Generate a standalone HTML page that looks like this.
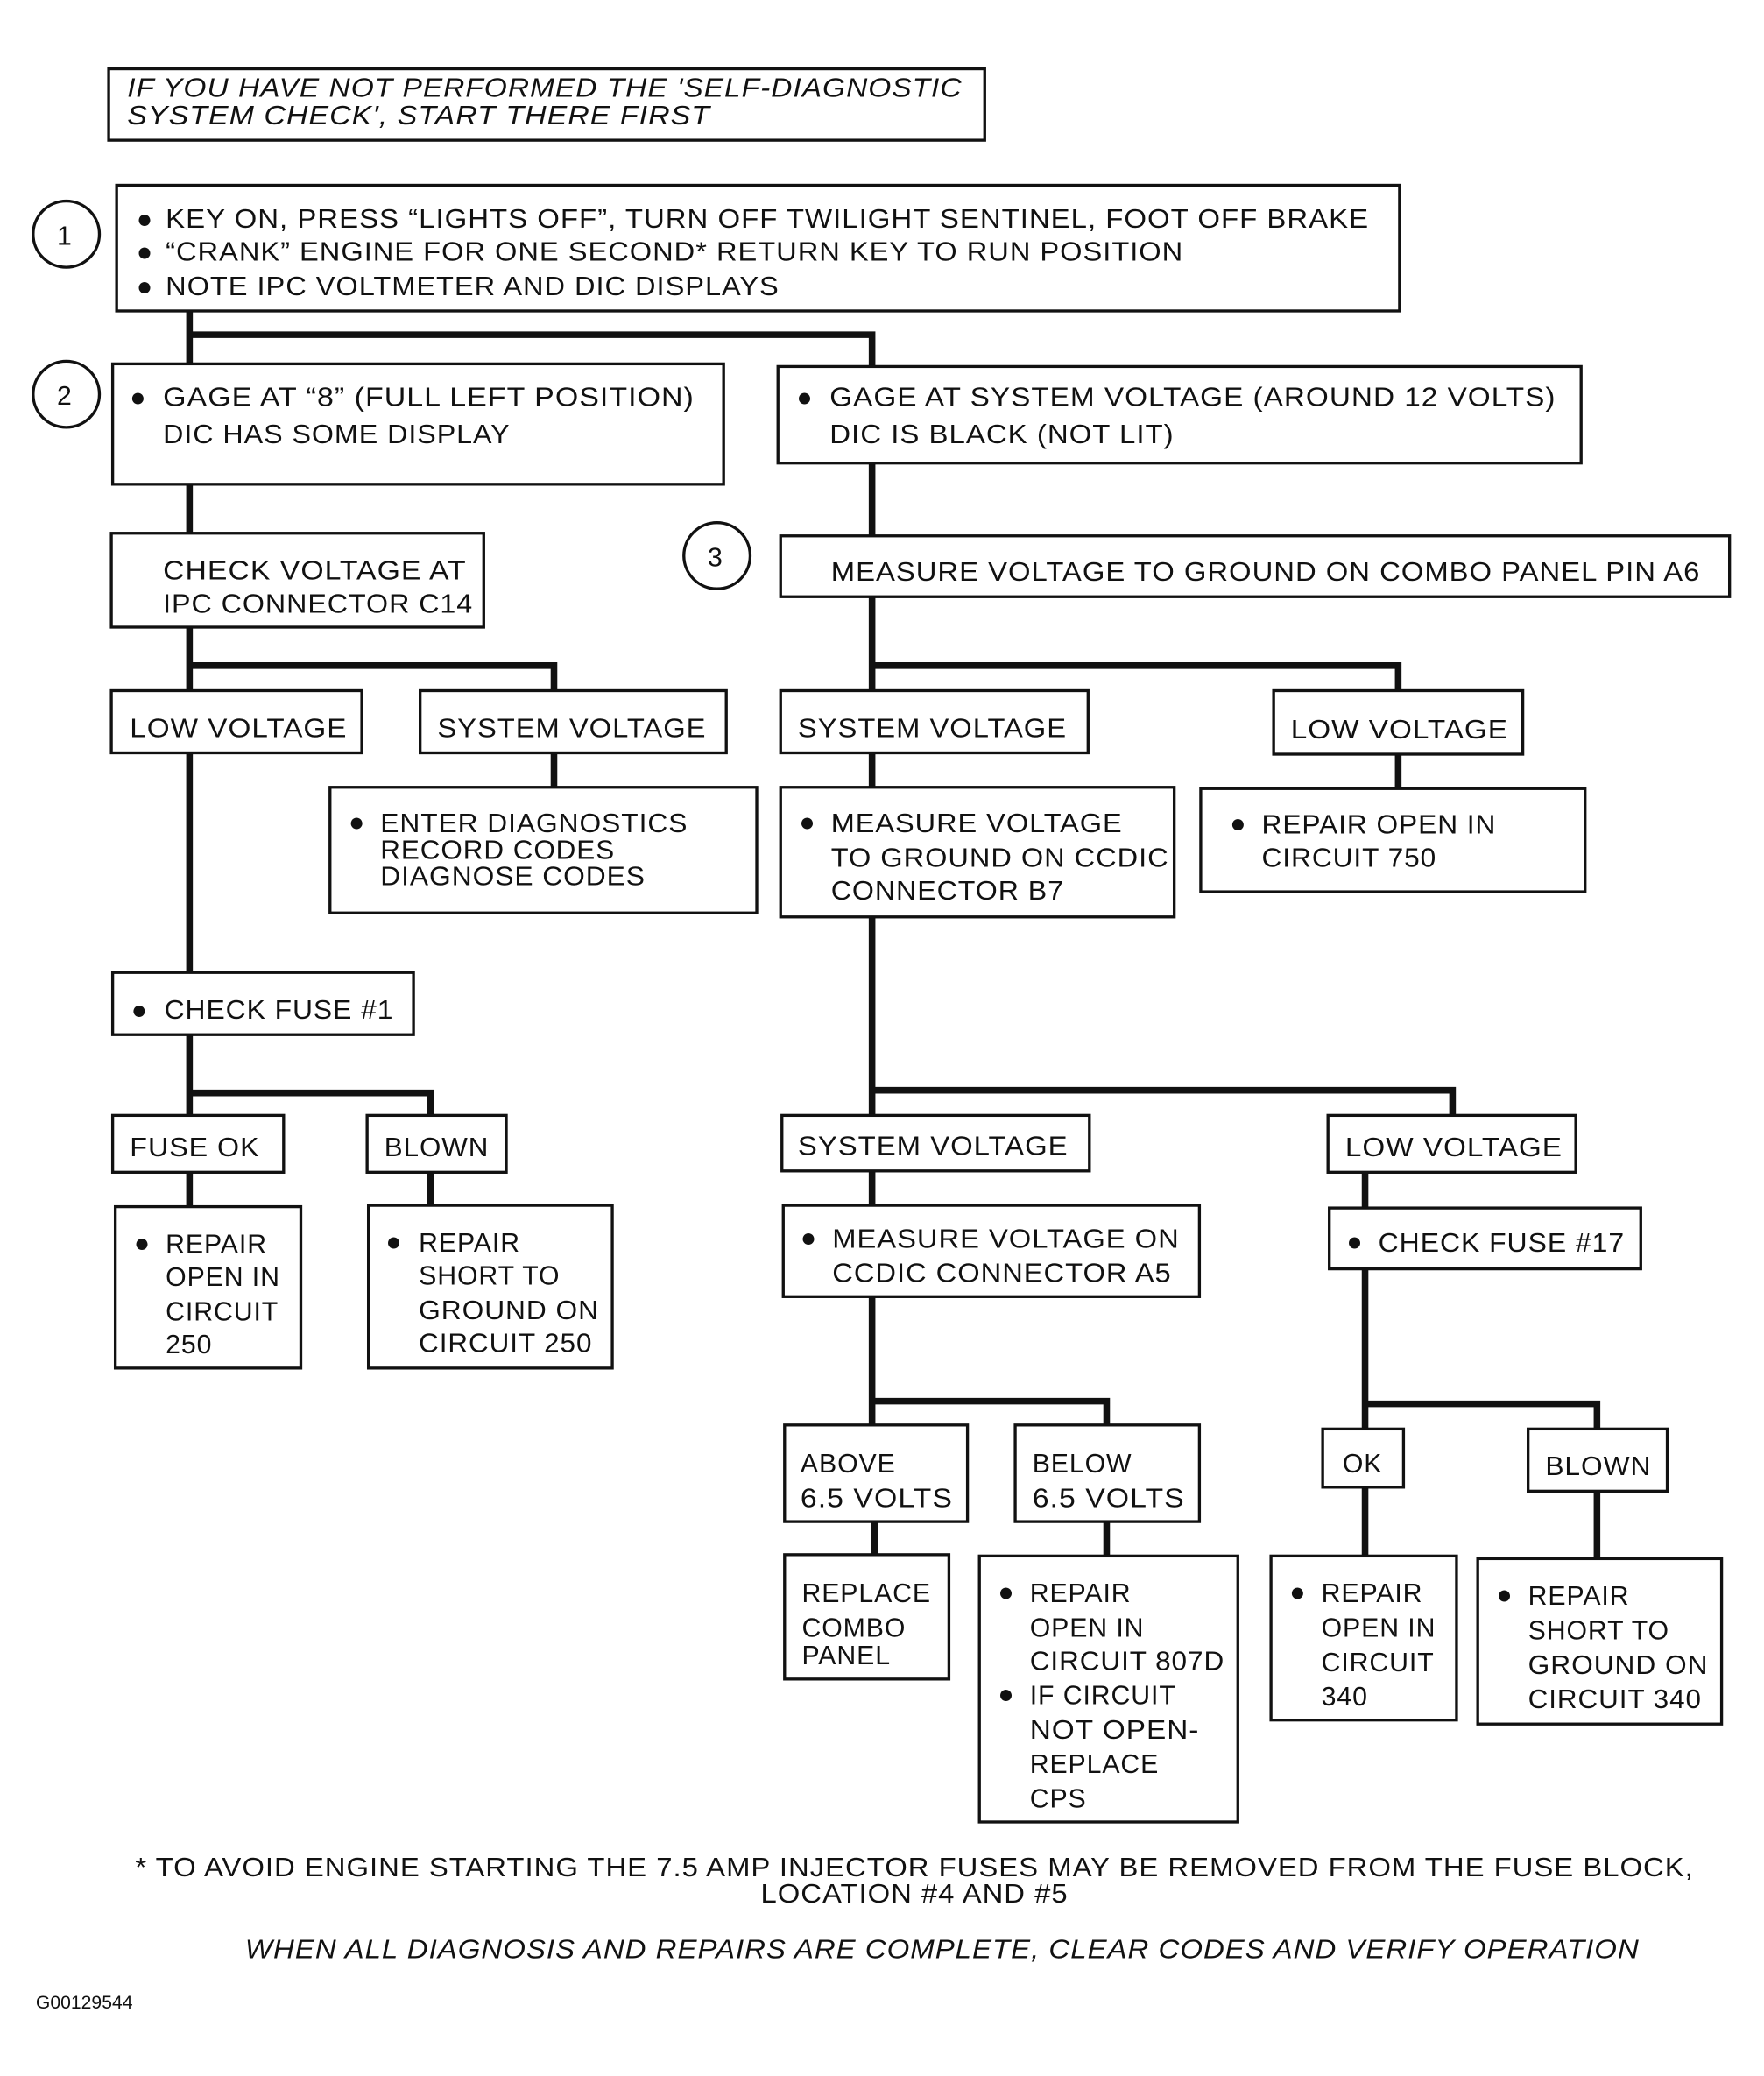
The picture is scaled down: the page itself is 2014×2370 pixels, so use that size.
<!DOCTYPE html>
<html><head><meta charset="utf-8"><style>
html,body{margin:0;padding:0;background:#fff}
svg{display:block}
text{font-family:"Liberation Sans",Arial,sans-serif;font-size:20px;fill:#111;letter-spacing:0.6px}
.b{fill:none;stroke:#111;stroke-width:2.2}
.l{fill:none;stroke:#111;stroke-width:5}
.i{font-style:italic}
</style></head><body>
<svg width="2014" height="2370" viewBox="0 0 1331 1569" preserveAspectRatio="none" xmlns="http://www.w3.org/2000/svg">
<g class="l">
<path d="M143 235V275M143 253H658V277"/>
<path d="M143 366V403"/>
<path d="M658 350V405"/>
<path d="M143 474V522M143 503H418V522"/>
<path d="M418 569V595"/>
<path d="M143 569V735"/>
<path d="M143 782V843M143 826H325V843"/>
<path d="M143 886V912M325 886V911"/>
<path d="M658 451V522M658 503H1055V522"/>
<path d="M658 569V595M1055 570V596"/>
<path d="M658 693V843M658 824H1096V843"/>
<path d="M658 885V911M1030 886V913"/>
<path d="M658 980V1077M658 1059H835V1077"/>
<path d="M1030 959V1080M1030 1061H1205V1080"/>
<path d="M660 1150V1175M835 1150V1176M1030 1124V1176M1205 1127V1178"/>
</g>
<g class="b">
<rect x="82" y="52" width="661" height="54"/>
<circle cx="50" cy="177" r="25"/>
<rect x="88" y="140" width="968" height="95"/>
<circle cx="50" cy="298" r="25"/>
<rect x="85" y="275" width="461" height="91"/>
<rect x="587" y="277" width="606" height="73"/>
<rect x="84" y="403" width="281" height="71"/>
<circle cx="541" cy="420" r="25"/>
<rect x="589" y="405" width="716" height="46"/>
<rect x="84" y="522" width="189" height="47"/>
<rect x="317" y="522" width="231" height="47"/>
<rect x="249" y="595" width="322" height="95"/>
<rect x="85" y="735" width="227" height="47"/>
<rect x="85" y="843" width="129" height="43"/>
<rect x="277" y="843" width="105" height="43"/>
<rect x="87" y="912" width="140" height="122"/>
<rect x="278" y="911" width="184" height="123"/>
<rect x="589" y="522" width="232" height="47"/>
<rect x="961" y="522" width="188" height="48"/>
<rect x="589" y="595" width="297" height="98"/>
<rect x="906" y="596" width="290" height="78"/>
<rect x="590" y="843" width="232" height="42"/>
<rect x="1002" y="843" width="187" height="43"/>
<rect x="591" y="911" width="314" height="69"/>
<rect x="1003" y="913" width="235" height="46"/>
<rect x="592" y="1077" width="138" height="73"/>
<rect x="766" y="1077" width="139" height="73"/>
<rect x="998" y="1080" width="61" height="44"/>
<rect x="1153" y="1080" width="105" height="47"/>
<rect x="592" y="1175" width="124" height="94"/>
<rect x="739" y="1176" width="195" height="201"/>
<rect x="959" y="1176" width="140" height="124"/>
<rect x="1115" y="1178" width="184" height="125"/>
</g>
<text class="i" x="96" y="73" textLength="630" lengthAdjust="spacingAndGlyphs">IF YOU HAVE NOT PERFORMED THE 'SELF-DIAGNOSTIC</text>
<text class="i" x="96" y="94" textLength="440" lengthAdjust="spacingAndGlyphs">SYSTEM CHECK', START THERE FIRST</text>
<text x="43" y="185">1</text><text x="43" y="306">2</text><text x="534" y="428">3</text>
<text x="103" y="172">●</text><text x="125" y="172" textLength="908" lengthAdjust="spacingAndGlyphs">KEY ON, PRESS “LIGHTS OFF”, TURN OFF TWILIGHT SENTINEL, FOOT OFF BRAKE</text>
<text x="103" y="197">●</text><text x="125" y="197" textLength="768" lengthAdjust="spacingAndGlyphs">“CRANK” ENGINE FOR ONE SECOND* RETURN KEY TO RUN POSITION</text>
<text x="103" y="223">●</text><text x="125" y="223" textLength="463" lengthAdjust="spacingAndGlyphs">NOTE IPC VOLTMETER AND DIC DISPLAYS</text>
<text x="98" y="307">●</text><text x="123" y="307" textLength="401" lengthAdjust="spacingAndGlyphs">GAGE AT “8” (FULL LEFT POSITION)</text>
<text x="123" y="335" textLength="262" lengthAdjust="spacingAndGlyphs">DIC HAS SOME DISPLAY</text>
<text x="601" y="307">●</text><text x="626" y="307" textLength="548" lengthAdjust="spacingAndGlyphs">GAGE AT SYSTEM VOLTAGE (AROUND 12 VOLTS)</text>
<text x="626" y="335" textLength="260" lengthAdjust="spacingAndGlyphs">DIC IS BLACK (NOT LIT)</text>
<text x="123" y="438" textLength="229" lengthAdjust="spacingAndGlyphs">CHECK VOLTAGE AT</text>
<text x="123" y="463" textLength="234" lengthAdjust="spacingAndGlyphs">IPC CONNECTOR C14</text>
<text x="627" y="439" textLength="656" lengthAdjust="spacingAndGlyphs">MEASURE VOLTAGE TO GROUND ON COMBO PANEL PIN A6</text>
<text x="98" y="557" textLength="164" lengthAdjust="spacingAndGlyphs">LOW VOLTAGE</text>
<text x="330" y="557" textLength="203" lengthAdjust="spacingAndGlyphs">SYSTEM VOLTAGE</text>
<text x="263" y="628">●</text><text x="287" y="629" textLength="232" lengthAdjust="spacingAndGlyphs">ENTER DIAGNOSTICS</text>
<text x="287" y="649" textLength="177" lengthAdjust="spacingAndGlyphs">RECORD CODES</text>
<text x="287" y="669" textLength="200" lengthAdjust="spacingAndGlyphs">DIAGNOSE CODES</text>
<text x="99" y="770">●</text><text x="124" y="770" textLength="173" lengthAdjust="spacingAndGlyphs">CHECK FUSE #1</text>
<text x="98" y="874" textLength="98" lengthAdjust="spacingAndGlyphs">FUSE OK</text>
<text x="290" y="874" textLength="79" lengthAdjust="spacingAndGlyphs">BLOWN</text>
<text x="101" y="946">●</text><text x="125" y="947">REPAIR</text><text x="125" y="972">OPEN IN</text><text x="125" y="998">CIRCUIT</text><text x="125" y="1023">250</text>
<text x="291" y="945">●</text><text x="316" y="946">REPAIR</text><text x="316" y="971">SHORT TO</text><text x="316" y="997" textLength="136" lengthAdjust="spacingAndGlyphs">GROUND ON</text><text x="316" y="1022" textLength="131" lengthAdjust="spacingAndGlyphs">CIRCUIT 250</text>
<text x="602" y="557" textLength="203" lengthAdjust="spacingAndGlyphs">SYSTEM VOLTAGE</text>
<text x="974" y="558" textLength="164" lengthAdjust="spacingAndGlyphs">LOW VOLTAGE</text>
<text x="603" y="628">●</text><text x="627" y="629" textLength="220" lengthAdjust="spacingAndGlyphs">MEASURE VOLTAGE</text>
<text x="627" y="655" textLength="255" lengthAdjust="spacingAndGlyphs">TO GROUND ON CCDIC</text>
<text x="627" y="680" textLength="176" lengthAdjust="spacingAndGlyphs">CONNECTOR B7</text>
<text x="928" y="629">●</text><text x="952" y="630" textLength="177" lengthAdjust="spacingAndGlyphs">REPAIR OPEN IN</text>
<text x="952" y="655" textLength="132" lengthAdjust="spacingAndGlyphs">CIRCUIT 750</text>
<text x="602" y="873" textLength="204" lengthAdjust="spacingAndGlyphs">SYSTEM VOLTAGE</text>
<text x="1015" y="874" textLength="164" lengthAdjust="spacingAndGlyphs">LOW VOLTAGE</text>
<text x="604" y="942">●</text><text x="628" y="943" textLength="262" lengthAdjust="spacingAndGlyphs">MEASURE VOLTAGE ON</text>
<text x="628" y="969" textLength="256" lengthAdjust="spacingAndGlyphs">CCDIC CONNECTOR A5</text>
<text x="1016" y="945">●</text><text x="1040" y="946" textLength="186" lengthAdjust="spacingAndGlyphs">CHECK FUSE #17</text>
<text x="604" y="1113">ABOVE</text><text x="604" y="1139" textLength="115" lengthAdjust="spacingAndGlyphs">6.5 VOLTS</text>
<text x="779" y="1113">BELOW</text><text x="779" y="1139" textLength="115" lengthAdjust="spacingAndGlyphs">6.5 VOLTS</text>
<text x="1013" y="1113">OK</text>
<text x="1166" y="1115" textLength="80" lengthAdjust="spacingAndGlyphs">BLOWN</text>
<text x="605" y="1211">REPLACE</text><text x="605" y="1237">COMBO</text><text x="605" y="1258">PANEL</text>
<text x="753" y="1210">●</text><text x="777" y="1211">REPAIR</text><text x="777" y="1237">OPEN IN</text><text x="777" y="1262" textLength="147" lengthAdjust="spacingAndGlyphs">CIRCUIT 807D</text>
<text x="753" y="1287">●</text><text x="777" y="1288">IF CIRCUIT</text><text x="777" y="1314" textLength="128" lengthAdjust="spacingAndGlyphs">NOT OPEN-</text><text x="777" y="1340">REPLACE</text><text x="777" y="1366">CPS</text>
<text x="973" y="1210">●</text><text x="997" y="1211">REPAIR</text><text x="997" y="1237">OPEN IN</text><text x="997" y="1263">CIRCUIT</text><text x="997" y="1289">340</text>
<text x="1129" y="1212">●</text><text x="1153" y="1213">REPAIR</text><text x="1153" y="1239">SHORT TO</text><text x="1153" y="1265" textLength="136" lengthAdjust="spacingAndGlyphs">GROUND ON</text><text x="1153" y="1291" textLength="131" lengthAdjust="spacingAndGlyphs">CIRCUIT 340</text>
<text x="102" y="1418" textLength="1176" lengthAdjust="spacingAndGlyphs">* TO AVOID ENGINE STARTING THE 7.5 AMP INJECTOR FUSES MAY BE REMOVED FROM THE FUSE BLOCK,</text>
<text x="574" y="1438" textLength="232" lengthAdjust="spacingAndGlyphs">LOCATION #4 AND #5</text>
<text class="i" x="185" y="1480" textLength="1052" lengthAdjust="spacingAndGlyphs">WHEN ALL DIAGNOSIS AND REPAIRS ARE COMPLETE, CLEAR CODES AND VERIFY OPERATION</text>
<text x="27" y="1518" style="font-size:14px;letter-spacing:0">G00129544</text>
</svg>
</body></html>
